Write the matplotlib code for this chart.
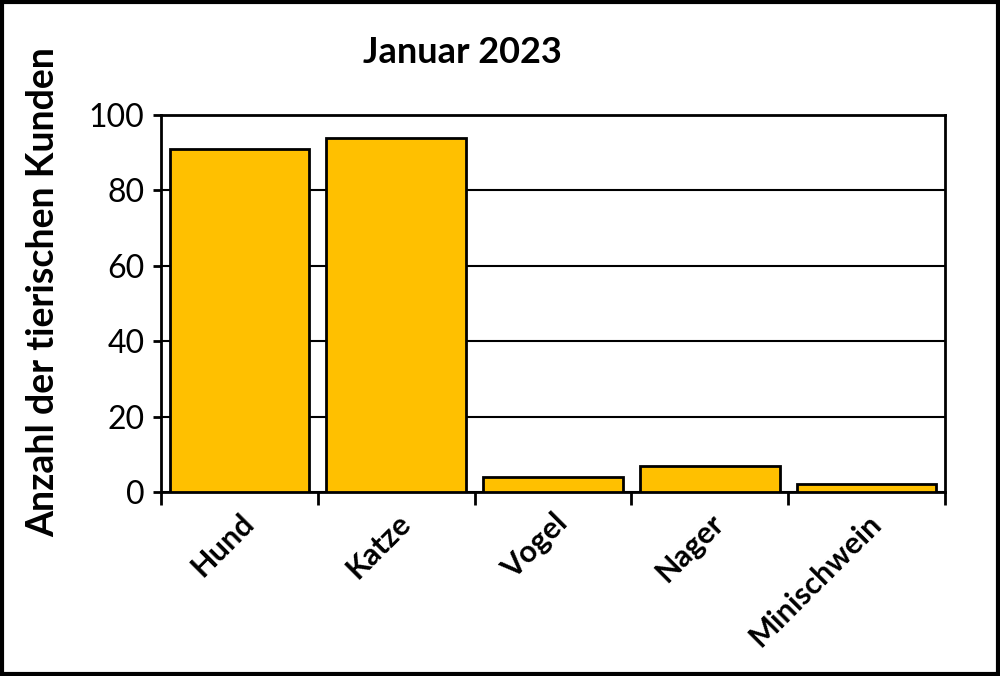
import matplotlib.pyplot as plt
from matplotlib.patches import Rectangle

categories = ["Hund", "Katze", "Vogel", "Nager", "Minischwein"]
counts = [91, 94, 4, 7, 2]
y_ticks = [0, 20, 40, 60, 80, 100]

BAR_COLOR = "#FFC000"

plt.rcParams["font.family"] = ["Lato", "DejaVu Sans"]


def draw_chart():
  fig = plt.figure(figsize=(10, 6.76), dpi=100)
  ax = fig.add_axes([0.161, 0.2722, 0.784, 0.5577])

  x = range(len(categories))
  ax.bar(x, counts, width=0.89, color=BAR_COLOR, edgecolor="black",
         linewidth=2, zorder=3)

  ax.set_xlim(-0.5, len(categories) - 0.5)
  ax.set_ylim(0, 100)
  ax.set_yticks(y_ticks)
  ax.tick_params(axis="y", labelsize=23, length=6, width=2, direction="out", pad=6)
  ax.grid(axis="y", color="black", linewidth=1.5, zorder=0)

  # ticks between categories on the x axis
  ax.set_xticks([i - 0.5 for i in range(len(categories) + 1)], minor=False)
  ax.set_xticklabels([])
  ax.tick_params(axis="x", length=9, width=2, direction="out")
  ax.set_xticks(list(x), minor=True)
  ax.set_xticklabels(categories, minor=True, rotation=45, ha="right",
                     rotation_mode="anchor", fontsize=22, fontweight="bold")
  ax.tick_params(axis="x", which="minor", length=0, pad=12)

  for side in ["left", "bottom", "right", "top"]:
    ax.spines[side].set_linewidth(2)

  ax.set_ylabel("Anzahl der tierischen Kunden", fontsize=27, fontweight="bold")
  ax.yaxis.set_label_coords(-0.128, 0.53)

  fig.text(0.462, 0.922, "Januar 2023", ha="center", va="center",
           fontsize=26, fontweight="bold")

  fig.patches.append(Rectangle((0.002, 0.003), 0.996, 0.994, transform=fig.transFigure,
                               fill=False, edgecolor="black", linewidth=3))

  fig.savefig("out.png", dpi=100)


def main():
  draw_chart()


if __name__ == "__main__":
  main()
